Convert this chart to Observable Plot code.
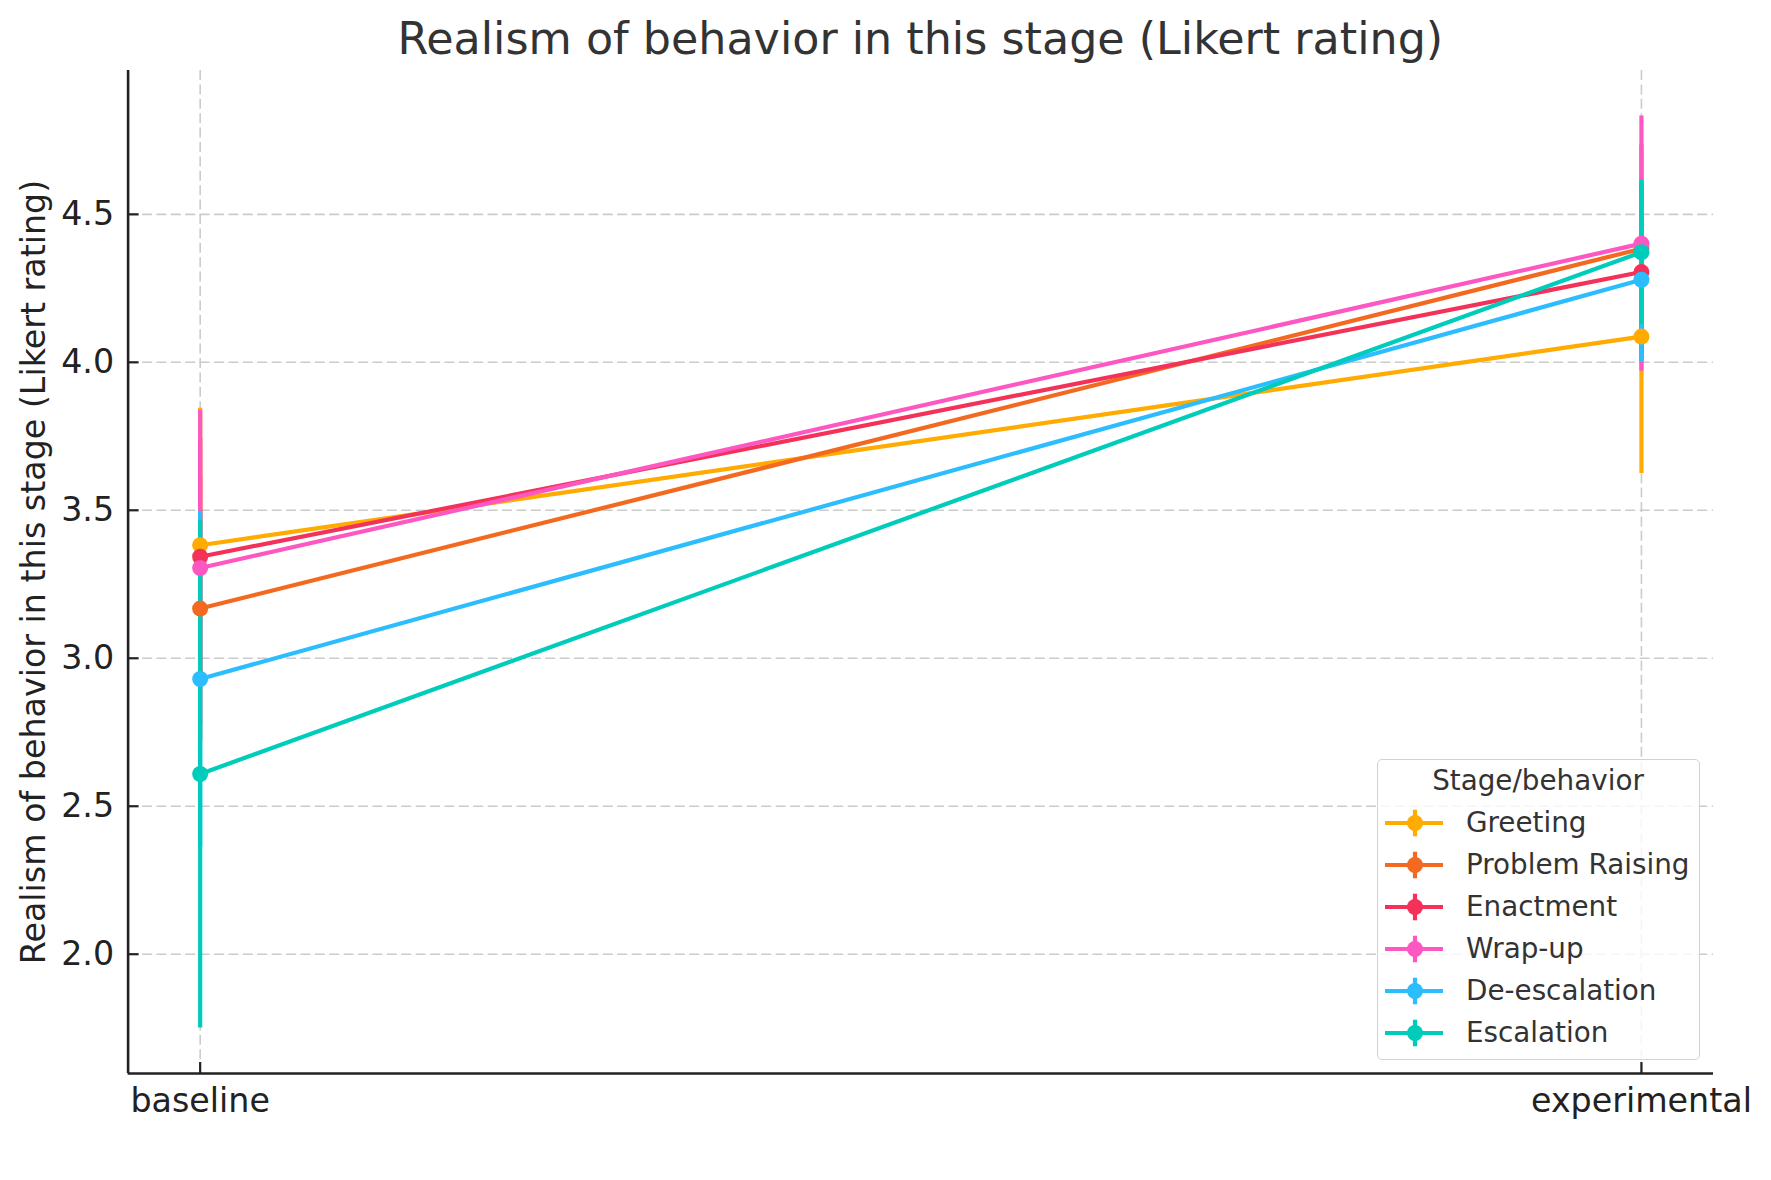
<!DOCTYPE html>
<html><head><meta charset="utf-8">
<script src="https://cdn.jsdelivr.net/npm/d3@7"></script>
<script src="https://cdn.jsdelivr.net/npm/@observablehq/plot@0.6"></script>
<style>
body{margin:0;background:#fff;}
#wrap{position:relative;width:1771px;height:1180px;font-family:"DejaVu Sans",sans-serif;overflow:hidden;}
#chart{position:absolute;left:0;top:0;}
#title{position:absolute;left:127.6px;width:1585.4px;top:17px;text-align:center;font-size:44.4px;line-height:44px;color:#333;white-space:nowrap;}
#legend{position:absolute;left:1376.5px;top:758.5px;width:323px;height:301px;box-sizing:border-box;border:1.7px solid #d2d2d2;border-radius:5px;background:rgba(255,255,255,0.8);}
.lrow{position:absolute;height:42px;line-height:42px;font-size:27.8px;color:#333;white-space:nowrap;}
.lsvg{position:absolute;}
</style></head>
<body>
<div id="wrap">
  <div id="chart"></div>
  <div id="title">Realism of behavior in this stage (Likert rating)</div>
  <div id="legend"></div>
</div>
<script>
const conditions = ["baseline", "experimental"];
const stages = ["Greeting", "Problem Raising", "Enactment", "Wrap-up", "De-escalation", "Escalation"];
const baselineMean = [3.382, 3.168, 3.343, 3.305, 2.930, 2.609];
const baselineErr = [0.463, 0.45, 0.40, 0.532, 0.567, 0.858];
const experimentalMean = [4.087, 4.384, 4.305, 4.401, 4.279, 4.372];
const experimentalErr = [0.463, 0.35, 0.30, 0.431, 0.279, 0.245];
const colors = ["#FFAB00", "#F2691F", "#F43259", "#FD57C1", "#2CBDFE", "#00CCBC"];
const yTicks = [2.0, 2.5, 3.0, 3.5, 4.0, 4.5];
const yLabel = "Realism of behavior in this stage (Likert rating)";
const legendTitle = "Stage/behavior";

const rows = [];
stages.forEach((s, i) => {
  rows.push({stage: s, xi: 0, mean: baselineMean[i], err: baselineErr[i]});
  rows.push({stage: s, xi: 1, mean: experimentalMean[i], err: experimentalErr[i]});
});
const lo = d3.min(rows, r => r.mean - r.err), hi = d3.max(rows, r => r.mean + r.err);
const pad = (hi - lo) * 0.05;
const yDomain = [lo - pad, hi + pad];
const xDomain = [-0.05, 1.05];

const W = 1771, H = 1180, mL = 127.6, mR = 58, mT = 70, mB = 107;
const plotW = W - mL - mR, plotH = H - mT - mB;
const grid = {stroke: "#cbcbcb", strokeWidth: 1.6, strokeDasharray: "10,4.4"};
const ink = "#222";

const marks = [
  Plot.ruleY(yTicks, grid),
  Plot.ruleX([0, 1], grid),
  ...stages.map((s, i) => Plot.ruleX(rows.filter(r => r.stage === s), {
    x: "xi", y1: r => r.mean - r.err, y2: r => r.mean + r.err, stroke: colors[i], strokeWidth: 4.2
  })),
  ...stages.flatMap((s, i) => {
    const d = rows.filter(r => r.stage === s);
    return [
      Plot.line(d, {x: "xi", y: "mean", stroke: colors[i], strokeWidth: 4.2}),
      Plot.dot(d, {x: "xi", y: "mean", fill: colors[i], r: 8})
    ];
  }),
  Plot.ruleX([xDomain[0]], {stroke: ink, strokeWidth: 2.6}),
  Plot.ruleY([yDomain[0]], {stroke: ink, strokeWidth: 2.6}),
  Plot.tickY(yTicks, {y: d => d, insetRight: plotW - 11, stroke: ink, strokeWidth: 2.2}),
  Plot.tickX([0, 1], {x: d => d, insetTop: plotH - 11, stroke: ink, strokeWidth: 2.2}),
  Plot.axisY({ticks: yTicks, tickSize: 0, tickPadding: 14, tickFormat: d3.format(".1f"), label: null, fontSize: 33.3, fill: ink}),
  Plot.axisX({ticks: [0, 1], tickSize: 0, tickPadding: 14.6, tickFormat: i => conditions[i], label: null, fontSize: 33.3, fill: ink}),
  Plot.text([yLabel], {text: d => d, frameAnchor: "left", dx: 34 - mL, rotate: -90, fontSize: 33.3, fill: ink, textAnchor: "middle", lineAnchor: "middle"})
];

const chart = Plot.plot({
  width: W, height: H,
  marginLeft: mL, marginRight: mR, marginTop: mT, marginBottom: mB,
  style: {fontFamily: "DejaVu Sans, sans-serif", fontSize: "33.3px", background: "transparent", color: ink},
  x: {type: "linear", domain: xDomain},
  y: {type: "linear", domain: yDomain},
  marks
});
document.getElementById("chart").appendChild(chart);

// legend
const wrap = document.getElementById("wrap");
const ttl = document.createElement("div");
ttl.className = "lrow";
ttl.style.left = "1376.5px"; ttl.style.width = "323px"; ttl.style.textAlign = "center";
ttl.style.top = (790.7 - 30.6) + "px";
ttl.textContent = legendTitle;
wrap.appendChild(ttl);
stages.forEach((s, i) => {
  const cy = 822.7 + i * 42;
  const ns = "http://www.w3.org/2000/svg";
  const svg = document.createElementNS(ns, "svg");
  svg.setAttribute("class", "lsvg");
  svg.setAttribute("width", 60); svg.setAttribute("height", 30);
  svg.style.left = "1384px"; svg.style.top = (cy - 15) + "px";
  const l = document.createElementNS(ns, "line");
  l.setAttribute("x1", 1); l.setAttribute("x2", 59); l.setAttribute("y1", 15); l.setAttribute("y2", 15);
  l.setAttribute("stroke", colors[i]); l.setAttribute("stroke-width", 4.2);
  const v = document.createElementNS(ns, "line");
  v.setAttribute("x1", 31); v.setAttribute("x2", 31); v.setAttribute("y1", 1.7); v.setAttribute("y2", 28.3);
  v.setAttribute("stroke", colors[i]); v.setAttribute("stroke-width", 4.2);
  const c = document.createElementNS(ns, "circle");
  c.setAttribute("cx", 31); c.setAttribute("cy", 15); c.setAttribute("r", 8); c.setAttribute("fill", colors[i]);
  svg.appendChild(l); svg.appendChild(v); svg.appendChild(c);
  wrap.appendChild(svg);
  const t = document.createElement("div");
  t.className = "lrow";
  t.style.left = "1466px";
  t.style.top = (cy + 10 - 30.6) + "px";
  t.textContent = s;
  wrap.appendChild(t);
});
</script>
</body></html>
